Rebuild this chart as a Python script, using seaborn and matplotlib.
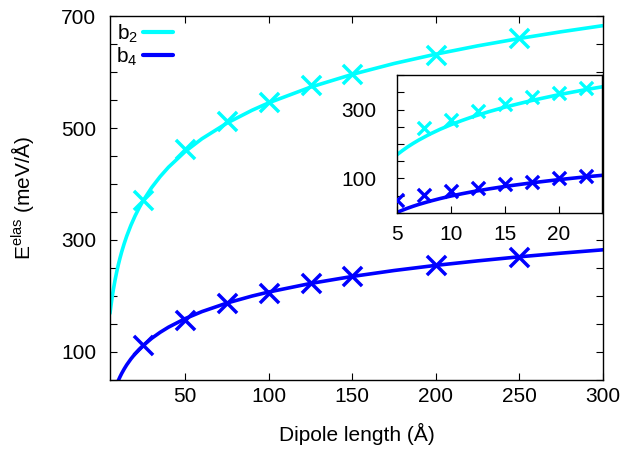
import matplotlib
matplotlib.use("Agg")
import matplotlib.pyplot as plt
from matplotlib.lines import Line2D
import seaborn as sns

# ---- data ----
curve_x = [5, 5.5, 6, 6.5, 7, 8, 9, 10, 11, 12, 13.5, 15, 17.5, 20, 22.5, 25, 30, 35,
           40, 50, 60, 75, 90, 100, 125, 150, 175, 200, 225, 250, 275, 300]
b2_curve = [169.0, 180.9, 191.9, 201.9, 211.2, 228.0, 242.8, 256.0, 267.9, 278.9, 293.6,
            306.9, 326.2, 343.0, 357.7, 371.0, 393.9, 413.2, 430.0, 458.0, 480.8, 508.8,
            531.7, 545.0, 573.0, 595.8, 615.2, 631.9, 646.7, 659.9, 671.9, 682.8]
b4_curve = [1.6, 8.1, 14.1, 19.6, 24.7, 33.8, 41.9, 49.2, 55.7, 61.7, 69.7, 77.0, 87.5,
            96.7, 104.8, 112.0, 124.5, 135.1, 144.3, 159.6, 172.1, 187.4, 199.9, 207.1,
            222.4, 234.9, 245.5, 254.7, 262.7, 270.0, 276.5, 282.5]

main_x = [25, 50, 75, 100, 125, 150, 200, 250]
b2_main = [371, 462, 512, 547, 577, 597, 630, 660]
b4_main = [112, 157, 188, 206, 223, 236, 256, 270]

inset_x_b2 = [7.5, 10, 12.5, 15, 17.5, 20, 22.5]
b2_inset = [245, 271, 296, 317, 335, 348, 363]
inset_x_b4 = [5, 7.5, 10, 12.5, 15, 17.5, 20, 22.5]
b4_inset = [38, 53, 63, 73, 83, 91, 100, 108]

labels = ["b$_2$", "b$_4$"]
main_xticks = [50, 100, 150, 200, 250, 300]
main_yticks = [100, 300, 500, 700]
inset_xticks = [5, 10, 15, 20]
inset_yticks = [100, 300]

C2 = "#00ffff"
C4 = "#0000ff"

sns.set_style("ticks")
plt.rcParams["font.family"] = ["Liberation Sans", "DejaVu Sans"]
plt.rcParams["mathtext.default"] = "regular"
plt.rcParams["xtick.direction"] = "in"
plt.rcParams["ytick.direction"] = "in"
plt.rcParams["text.color"] = "black"
plt.rcParams["axes.labelcolor"] = "black"
plt.rcParams["xtick.color"] = "black"
plt.rcParams["ytick.color"] = "black"
plt.rcParams["xtick.labelcolor"] = "black"
plt.rcParams["ytick.labelcolor"] = "black"

FS = 15
fig = plt.figure(figsize=(6.44, 4.50), dpi=100)
ax = fig.add_axes([0.1708, 0.1556, 0.7655, 0.8088])

sns.lineplot(x=curve_x, y=b2_curve, ax=ax, color=C2, lw=2.6, sort=False)
sns.lineplot(x=curve_x, y=b4_curve, ax=ax, color=C4, lw=2.6, sort=False)
sns.scatterplot(x=main_x, y=b2_main, ax=ax, marker="x", color=C2, s=190, linewidth=2.5, zorder=3)
sns.scatterplot(x=main_x, y=b4_main, ax=ax, marker="x", color=C4, s=190, linewidth=2.5, zorder=3)

ax.set_xlim(5, 300)
ax.set_ylim(50, 700)
ax.set_xticks(main_xticks)
ax.set_yticks(main_yticks)
ax.set_yticks(list(range(50, 701, 50)), minor=True)
ax.tick_params(axis="both", which="both", top=True, right=True, labelsize=FS,
               length=5, width=0.8, color="black", labelcolor="black")
ax.tick_params(axis="y", which="minor", length=5)
ax.tick_params(axis="y", pad=10)
ax.tick_params(axis="x", pad=5)
for sp in ax.spines.values():
    sp.set_linewidth(1.0)
    sp.set_color("black")
ax.set_xlabel("Dipole length (Å)", fontsize=FS, labelpad=12, color="black")
ax.set_ylabel("E$^{elas}$ (meV/Å)", fontsize=FS, labelpad=18, color="black")

handles = [Line2D([], [], color=C2, lw=3), Line2D([], [], color=C4, lw=3)]
leg = ax.legend(handles, labels, loc="upper left", markerfirst=False, frameon=False,
                fontsize=FS, handlelength=1.45, handletextpad=0.25, labelspacing=0.05,
                borderaxespad=0.2, borderpad=0.1)
for t in leg.get_texts():
    t.set_color("black")

# ---- inset ----
ins = fig.add_axes([0.6165, 0.5267, 0.3183, 0.3066])
sns.lineplot(x=curve_x, y=b2_curve, ax=ins, color=C2, lw=2.6, sort=False)
sns.lineplot(x=curve_x, y=b4_curve, ax=ins, color=C4, lw=2.6, sort=False)
sns.scatterplot(x=inset_x_b2, y=b2_inset, ax=ins, marker="x", color=C2, s=90, linewidth=2.4, zorder=3)
sns.scatterplot(x=inset_x_b4, y=b4_inset, ax=ins, marker="x", color=C4, s=90, linewidth=2.4, zorder=3)
ins.set_xlim(5, 24)
ins.set_ylim(0, 400)
ins.set_xticks(inset_xticks)
ins.set_yticks(inset_yticks)
ins.set_yticks(list(range(0, 401, 50)), minor=True)
ins.tick_params(axis="both", which="both", labelsize=FS, length=5, width=0.8,
                top=False, right=False, color="black", labelcolor="black")
ins.tick_params(axis="y", pad=15)
ins.tick_params(axis="x", pad=9)
for sp in ins.spines.values():
    sp.set_linewidth(1.0)
    sp.set_color("black")
ins.set_xlabel("")
ins.set_ylabel("")

fig.savefig("out.png", dpi=100)
